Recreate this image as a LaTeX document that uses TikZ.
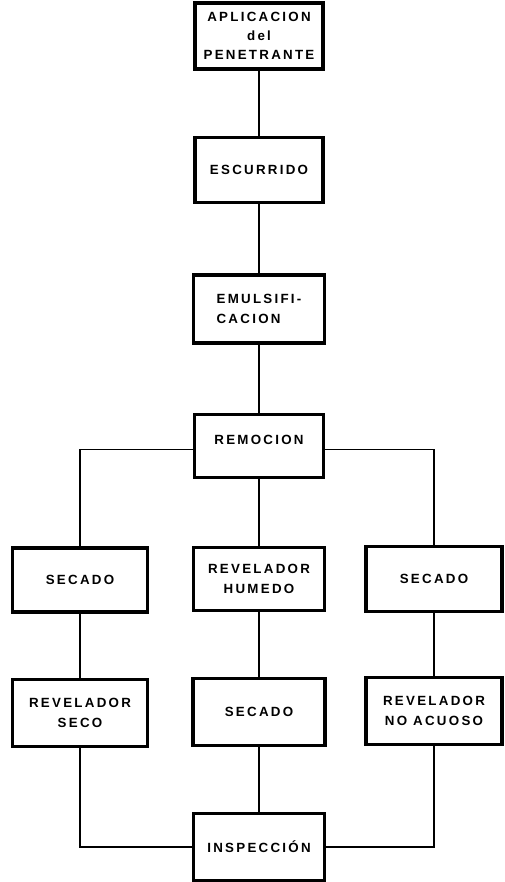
\documentclass[tikz,border=0pt]{standalone}
\usepackage{fontspec}
\setmainfont{Liberation Sans}[LetterSpace=17]
\begin{document}
\begin{tikzpicture}[x=0.75pt,y=-0.75pt,
  box/.style={draw=black, line width=2.3pt, fill=white, align=center, inner sep=0pt,
    font=\bfseries\fontsize{10}{14.5}\selectfont},
  conn/.style={draw=black, line width=1.1pt}]
\useasboundingbox (0,0) rectangle (505,882);
\node[box, minimum width=96pt, minimum height=49.5pt] (app) at (259,36) {APLICACION\\del\\PENETRANTE};
\node[box, minimum width=96pt, minimum height=49pt] (esc) at (259,170) {ESCURRIDO};
\node[box, minimum width=98pt, minimum height=51pt, align=left] (emu) at (259,309) {EMULSIFI-\\CACION};
\node[box, minimum width=97pt, minimum height=47pt, text depth=9pt] (rem) at (259,446) {REMOCION};
\node[box, minimum width=101pt, minimum height=48pt] (sec1) at (80,580) {SECADO};
\node[box, minimum width=98pt, minimum height=47pt] (revhum) at (259,579) {REVELADOR\\HUMEDO};
\node[box, minimum width=102pt, minimum height=49pt] (sec3) at (434,579) {SECADO};
\node[box, minimum width=101pt, minimum height=50pt] (revseco) at (80,713) {REVELADOR\\SECO};
\node[box, minimum width=99pt, minimum height=50pt] (sec2) at (259,712) {SECADO};
\node[box, minimum width=102pt, minimum height=50pt] (revnoac) at (434,711) {REVELADOR\\NO ACUOSO};
\node[box, minimum width=98pt, minimum height=50pt] (insp) at (259,847) {INSPECCIÓN};
\draw[conn] (app) -- (esc);
\draw[conn] (esc) -- (emu);
\draw[conn] (emu) -- (rem);
\draw[conn] (rem) -- (revhum);
\draw[conn] ([yshift=-2.5pt]rem.west) -| (sec1.north);
\draw[conn] ([yshift=-2.5pt]rem.east) -| (sec3.north);
\draw[conn] (sec1) -- (revseco);
\draw[conn] (revhum) -- (sec2);
\draw[conn] (sec3) -- (revnoac);
\draw[conn] (sec2) -- (insp);
\draw[conn] (revseco.south) |- (insp.west);
\draw[conn] (revnoac.south) |- (insp.east);
\end{tikzpicture}
\end{document}
